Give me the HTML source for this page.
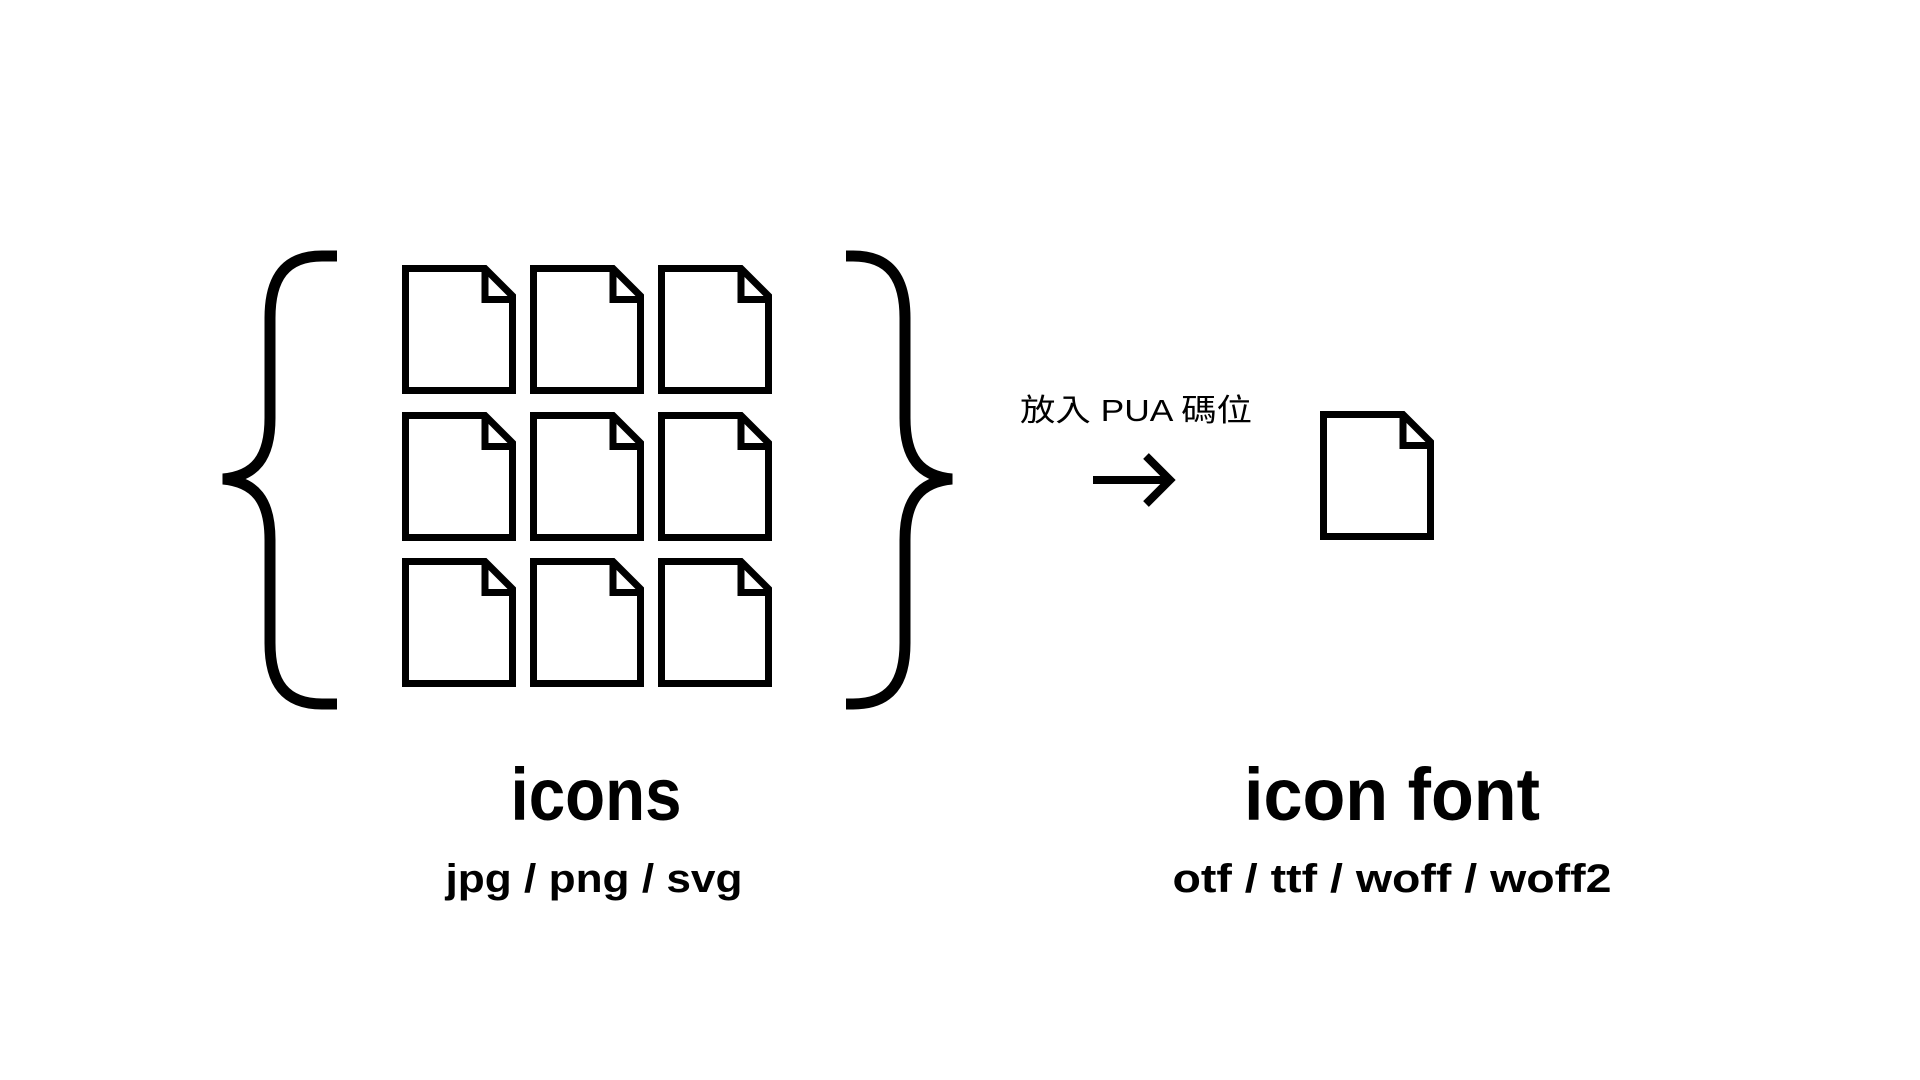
<!DOCTYPE html>
<html><head><meta charset="utf-8"><style>html,body{margin:0;padding:0;background:#fff;width:1920px;height:1080px;overflow:hidden}</style></head>
<body>
<svg width="1920" height="1080" viewBox="0 0 1920 1080" xmlns="http://www.w3.org/2000/svg">
<defs>
<g id="f">
<path d="M3.5 3.5 H83 L110.5 31 V125.5 H3.5 Z" fill="#fff" stroke="#000" stroke-width="7" stroke-linejoin="miter"/>
<path d="M83 3.5 V34.5 H110.5" fill="none" stroke="#000" stroke-width="7"/>
</g>
</defs>
<g>
<use href="#f" x="402" y="265"/><use href="#f" x="530" y="265"/><use href="#f" x="658" y="265"/>
<use href="#f" x="402" y="412"/><use href="#f" x="530" y="412"/><use href="#f" x="658" y="412"/>
<use href="#f" x="402" y="558"/><use href="#f" x="530" y="558"/><use href="#f" x="658" y="558"/>
<use href="#f" x="1320" y="411"/>
</g>
<path d="M337 256 H322 C285 256 270 278 270 318 V418 C270 458 255 476 223 479 C255 482 270 500 270 540 V643 C270 683 285 704 322 704 H337" fill="none" stroke="#000" stroke-width="11"/>
<path d="M846 256 H853 C890 256 905 278 905 318 V418 C905 458 920 476 952 479 C920 482 905 500 905 540 V643 C905 683 890 704 853 704 H846" fill="none" stroke="#000" stroke-width="11"/>
<path d="M1093 480 H1170 M1146 456 L1170 480 L1146 504" fill="none" stroke="#000" stroke-width="8"/>
<g font-family="'Liberation Sans','Noto Sans CJK TC',sans-serif" text-anchor="middle" fill="#000">
<text x="1136" y="421" font-size="31" textLength="232" lengthAdjust="spacingAndGlyphs">放入 PUA 碼位</text>
<text x="596" y="820" font-size="74" font-weight="bold" textLength="171" lengthAdjust="spacingAndGlyphs">icons</text>
<text x="1392" y="820" font-size="74" font-weight="bold" textLength="296" lengthAdjust="spacingAndGlyphs">icon font</text>
<text x="594" y="892" font-size="40" font-weight="bold" textLength="297" lengthAdjust="spacingAndGlyphs">jpg / png / svg</text>
<text x="1392" y="892" font-size="40" font-weight="bold" textLength="439" lengthAdjust="spacingAndGlyphs">otf / ttf / woff / woff2</text>
</g>
</svg>
</body></html>
